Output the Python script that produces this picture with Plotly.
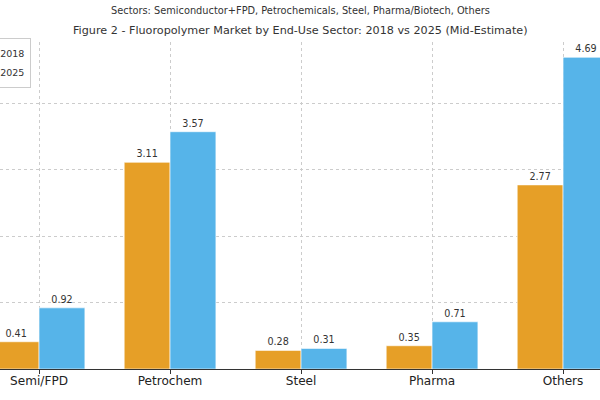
import plotly.graph_objects as go

categories = ["Semi/FPD", "Petrochem", "Steel", "Pharma", "Others"]
values_2018 = [0.41, 3.11, 0.28, 0.35, 2.77]
values_2025 = [0.92, 3.57, 0.31, 0.71, 4.69]
series_names = ["2018", "2025"]

title_text = "Figure 2 - Fluoropolymer Market by End-Use Sector: 2018 vs 2025 (Mid-Estimate)"
subtitle_text = "Sectors: Semiconductor+FPD, Petrochemicals, Steel, Pharma/Biotech, Others"

FONT = "DejaVu Sans"
colors = ["#E69F27", "#56B4E9"]

W, H = 600, 400
MT, MB = 42, 31
PH = H - MT - MB

fig = go.Figure()
for name, vals, col in zip(series_names, [values_2018, values_2025], colors):
    fig.add_trace(go.Bar(
        x=categories, y=vals, name=name,
        marker=dict(color=col, line=dict(color="white", width=0.6)),
        text=[f"{v:.2f}" for v in vals], textposition="outside",
        textfont=dict(family=FONT, size=9.6, color="#333333"),
        cliponaxis=False,
    ))


def py(px):
    # pixel row (from top) -> paper y
    return (H - MB - px) / PH


fig.update_layout(
    width=W, height=H,
    margin=dict(l=0, r=0, t=MT, b=MB, pad=0, autoexpand=False),
    paper_bgcolor="white", plot_bgcolor="white",
    barmode="group", bargap=0.3, bargroupgap=0.0,
    font=dict(family=FONT, color="#333333"),
    legend=dict(
        x=-0.068, y=py(38), xanchor="left", yanchor="top",
        bgcolor="rgba(255,255,255,0.8)", bordercolor="#cccccc", borderwidth=1,
        font=dict(family=FONT, size=9.5, color="#333333"),
        itemwidth=30, tracegroupgap=0,
    ),
    annotations=[
        dict(text=title_text, x=0.5, y=py(30), xref="paper", yref="paper",
             yanchor="middle", showarrow=False,
             font=dict(family=FONT, size=11.2, color="#333333")),
        dict(text=subtitle_text, x=0.5, y=py(11), xref="paper", yref="paper",
             yanchor="middle", showarrow=False,
             font=dict(family=FONT, size=9.8, color="#333333")),
    ],
)

fig.update_xaxes(
    range=[-0.298, 4.282], showline=True, linecolor="#333333", linewidth=1,
    ticks="outside", ticklen=4, tickcolor="#333333",
    showgrid=True, gridcolor="#cccccc", griddash="dot", gridwidth=1,
    tickfont=dict(family=FONT, size=12.1, color="#222222"),
    ticklabelstandoff=-4,
)
fig.update_yaxes(
    range=[0, 4.92], showticklabels=False, ticks="", zeroline=False,
    showgrid=True, gridcolor="#cccccc", griddash="dot", gridwidth=1,
    dtick=1, tick0=0,
)

fig.write_html(
    "out.html",
    config={"displayModeBar": False},
    post_script="document.body.style.margin='0';document.body.style.padding='0';",
)
